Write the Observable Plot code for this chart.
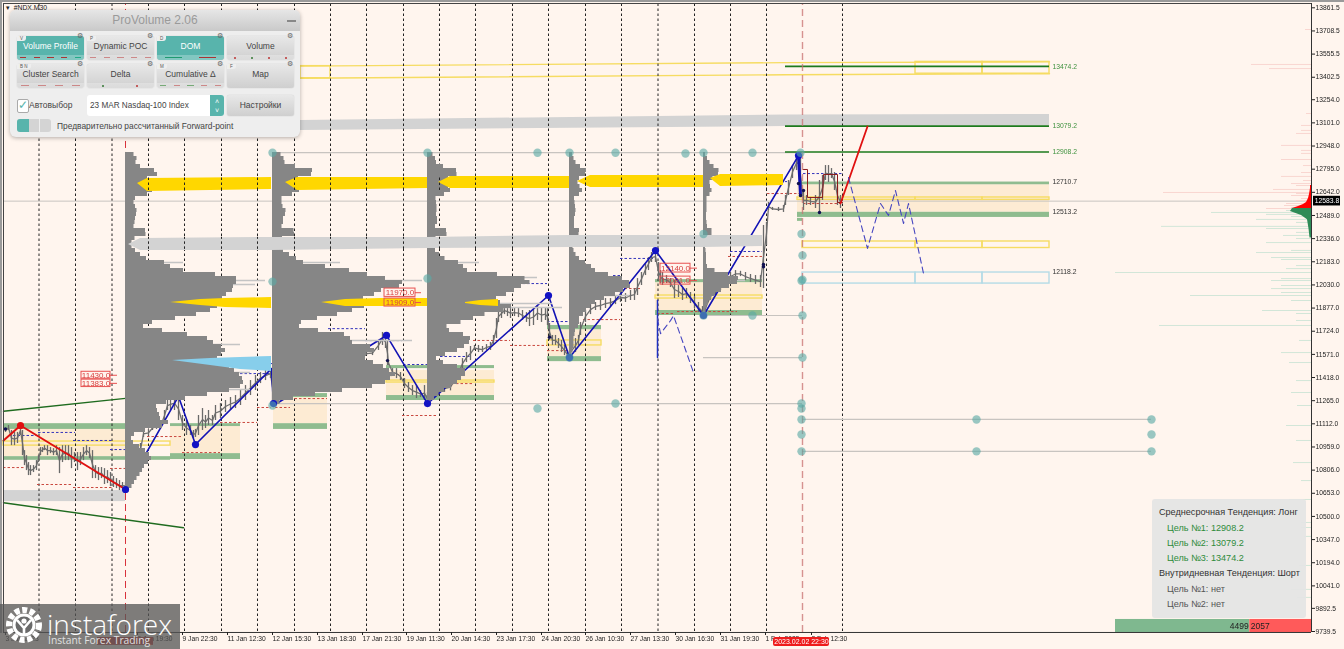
<!DOCTYPE html>
<html><head><meta charset="utf-8">
<script src="https://cdn.jsdelivr.net/npm/d3@7"></script>
<script src="https://cdn.jsdelivr.net/npm/@observablehq/plot@0.6"></script>
<style>
html,body{margin:0;padding:0;background:#FFF5EE;width:1344px;height:649px;overflow:hidden;font-family:"Liberation Sans",Arial,sans-serif}
#wrap{position:relative;width:1344px;height:649px;overflow:hidden}
#wrap svg.plot{position:absolute;left:0;top:0;background:transparent;filter:blur(.3px)}
.edgeT{position:absolute;left:0;top:0;width:1344px;height:2px;background:#9a9a9a}
.edgeT2{position:absolute;left:3px;top:3px;width:1308px;height:1px;background:#444}
.edgeL{position:absolute;left:0;top:0;width:2px;height:633px;background:#9a9a9a}
.edgeL2{position:absolute;left:3px;top:3px;width:1px;height:629px;background:#444}
#panel{position:absolute;left:10px;top:10px;width:290px;height:127px;border-radius:6px;background:#eeeeee;box-shadow:0 1px 4px rgba(0,0,0,.3);overflow:hidden}
#panel .head{height:21px;background:linear-gradient(#e6e6e6,#c9c9c9);text-align:center;color:#9a9a9a;font-size:12px;line-height:21px;font-family:"Liberation Sans",sans-serif}
#panel .min{position:absolute;right:4px;top:10px;width:9px;height:1.5px;background:#888}
.btn{position:absolute;width:67px;height:24px;border-radius:3px;background:linear-gradient(#e8e8e8,#cfcfcf);color:#444;font-size:8.5px;text-align:center;line-height:21px;box-shadow:0 0 1px rgba(0,0,0,.3)}
.btn.on{background:#58b4ac;color:#fff}
.btn .key{position:absolute;left:0;top:0;height:5px;padding:0 3px;font-size:4.5px;line-height:5px;color:#555;background:#eee;border-radius:0 0 3px 0}
.btn .gear{position:absolute;right:1px;top:-6px;font-size:7px;line-height:11px;color:#666}
.btn .strip{position:absolute;left:0;right:0;bottom:0;height:5px;display:flex;gap:1px;background:rgba(255,255,255,.25)}
.btn .strip i{flex:1;position:relative;display:block}
.btn .strip i:after{content:"";position:absolute;left:25%;right:25%;top:2px;height:1px;background:var(--c)}
.btn .strip i.dot:after{left:45%;right:auto;width:2px;height:2px;border-radius:1px;top:1.5px}
#info{position:absolute;left:1152px;top:499px;width:154px;height:119px;background:rgba(228,228,228,.93);border-radius:3px;font-size:9.1px;color:#333}
#info div{position:absolute;white-space:nowrap;line-height:12px}
#logo{position:absolute;left:0;top:604px;width:180px;height:45px;background:rgba(85,85,85,.76)}
</style></head>
<body><div id="wrap"></div>
<script>
// ---------- axis ----------
const priceTicks=[13861.5,13708.5,13555.5,13402.5,13254.0,13101.0,12948.0,12795.0,12642.0,12489.0,12336.0,12183.0,12030.0,11877.0,11724.0,11571.0,11418.0,11265.0,11112.0,10959.0,10806.0,10653.0,10500.0,10347.0,10194.0,10041.0,9892.5,9739.5];
const timeTickBars=[5,137,182,227,272,317,362,406,451,496,541,585,630,675,720,765,811];
const timeTickLabels=["3 Jan 2023","6 Jan 19:30","9 Jan 22:30","11 Jan 12:30","12 Jan 15:30","13 Jan 18:30","17 Jan 21:30","19 Jan 11:30","20 Jan 14:30","23 Jan 17:30","24 Jan 20:30","26 Jan 10:30","27 Jan 13:30","30 Jan 16:30","31 Jan 19:30","1 Feb 2023","2 Feb 12:30"];
const gridBars=[38.5,75,111.5,148,184,221,257,294,330,366,403,439,475,512,548,585,621,657.5,694,730,766,842];
const currentPrice=12583.8;
const buyVolume=4499, sellVolume=2057;

// ---------- candles [bar, low, high] ----------
const candlesA=[[5,11055,11081],[8,11068,11101],[11,10968,11068],[14,10968,11055],[17,10982,11055],[20,11035,11101],[22,10902,11068],[24,10836,10935],[26,10803,10902],[28,10770,10856],[30,10770,10836],[33,10790,10836],[36,10803,10869],[38,10856,10902],[40,10902,10955],[42,10922,10955],[44,10935,10968],[47,10902,10968],[50,10915,10955],[53,10902,10948],[56,10902,10968],[59,10783,10955],[62,10856,10968],[65,10869,10968],[68,10869,10968],[71,10816,10955],[74,10856,10922],[77,10803,10922],[80,10836,10922],[83,10869,10955],[86,10902,10968],[89,10882,10955],[92,10750,10935],[95,10750,10836],[98,10737,10823],[101,10750,10823],[104,10711,10816],[107,10717,10803],[110,10697,10790],[113,10691,10764],[116,10684,10750],[119,10671,10737],[122,10684,10724],[125,10678,10724]];
const candlesB=[[130,10737,10803],[135,10803,10869],[140,10902,10982],[143,11022,11068],[148,11030,11075],[152,11068,11101],[156,11075,11108],[160,11075,11108],[164,11134,11200],[167,11200,11266],[170,11200,11280],[174,11200,11299],[178,11134,11286],[182,11068,11167],[186,11035,11134],[190,11035,11101],[193,11015,11068],[195,11022,11075],[198,11035,11167],[202,11068,11213],[205,11081,11167],[208,11101,11200],[212,11101,11167],[215,11134,11233],[220,11147,11246],[225,11187,11266],[230,11200,11286],[235,11213,11299],[240,11233,11332],[245,11266,11365],[250,11299,11398],[255,11332,11431],[260,11378,11451],[265,11398,11464],[270,11411,11477],[272,11233,11477]];
const candlesC=[[350,11530,11563],[355,11537,11563],[360,11563,11583],[366,11563,11590],[372,11563,11597],[378,11597,11663],[382,11630,11716],[385,11610,11696],[387,11497,11663],[388,11497,11530],[392,11431,11477],[396,11411,11477],[400,11398,11451],[404,11345,11411],[408,11319,11385],[412,11299,11365],[416,11279,11365],[420,11286,11332],[424,11266,11365],[427,11233,11319]];
const candlesD=[[432,11270,11330],[438,11300,11350],[444,11320,11370],[450,11330,11380],[458,11411,11477],[462,11477,11543],[466,11517,11583],[470,11530,11623],[474,11597,11630],[478,11583,11630],[482,11583,11623],[486,11597,11636],[490,11597,11650],[493,11630,11696],[496,11676,11808],[498,11782,11861],[501,11808,11874],[504,11834,11887],[507,11821,11887],[510,11808,11880],[514,11821,11874],[518,11814,11874],[522,11795,11861],[526,11782,11847],[529,11755,11861],[533,11762,11874],[537,11795,11894],[541,11782,11880],[545,11795,11880],[547,11762,11874],[549,11663,11775],[552,11630,11696],[555,11630,11696],[558,11610,11676],[561,11583,11663],[564,11563,11630],[567,11543,11597]];
const candlesE=[[570,11543,11630],[575,11583,11676],[578,11630,11696],[580,11696,11782],[585,11782,11861],[590,11834,11900],[595,11861,11914],[600,11861,11927],[605,11874,11940],[610,11887,11940],[615,11900,11953],[620,11914,11980],[625,11914,11973],[630,11927,11993],[634,11927,12006],[637,11960,12072],[641,12026,12112],[645,12092,12171],[648,12125,12211],[651,12178,12244],[655,12178,12257],[658,12059,12178],[660,12039,12125],[662,12026,12112],[666,12039,12092],[670,12013,12072],[674,11940,12059],[678,11947,12026],[682,11927,12006],[686,11940,12006],[690,11907,11980],[694,11874,11953],[698,11847,11914],[702,11821,11887]];
const candlesF=[[705,11828,11927],[710,11927,11980],[715,11960,12013],[720,11993,12046],[725,12026,12072],[730,12059,12112],[735,12080,12125],[740,12085,12120],[745,12059,12112],[750,12046,12099],[755,12033,12092],[760,12013,12092],[763,12006,12423],[766,12291,12443],[768,12522,12575],[772,12522,12542],[778,12515,12542],[783,12509,12555],[785,12555,12621],[788,12621,12720],[792,12733,12819],[796,12786,12885],[798,12786,12885],[800,12621,12885],[803,12522,12654],[806,12555,12621],[810,12555,12608],[815,12535,12621],[819,12509,12720],[822,12588,12753],[825,12720,12819],[828,12707,12819],[831,12733,12799],[834,12654,12773],[837,12555,12687],[840,12535,12621]];
const candleRuns=[candlesA,candlesB,candlesC,candlesD,candlesE,candlesF];
const candles=candleRuns.flat();

// ---------- volume profiles: width per 26.44-point level from 12905 down ----------
const profileStarts=[125,272,427,569,703];
const profile1=[3,14,9,12,18,40,24,20,22,24,30,14,6,11,9,14,8,12,7,10,30,11,8,5,8,12,18,24,54,36,80,100,122,100,116,98,104,90,96,88,82,60,40,14,22,52,72,92,84,108,92,100,84,108,100,118,110,124,112,118,90,74,46,36,26,38,30,40,46,28,12,6,6,10,18,22,26,26,20,18,16,13,10,8,5,2];
const profile2=[3,14,9,16,30,50,28,24,24,26,28,12,7,12,9,18,8,14,8,11,32,12,8,5,8,14,20,28,34,72,82,108,118,142,112,106,98,84,100,84,76,54,36,22,32,60,84,72,88,108,96,92,94,108,114,120,126,110,116,84,56,30,12,3];
const profile3=[2,9,7,11,21,37,22,20,20,22,24,10,7,11,8,11,7,13,7,9,29,10,7,5,7,9,15,20,42,30,50,90,105,100,88,86,72,66,80,88,65,50,42,25,14,30,42,44,40,34,26,10,8,24,36,40,36,32,28,20,14,9,5,2];
const profile4=[2,4,5,8,14,20,12,8,9,12,14,6,4,7,5,8,4,6,4,6,14,5,4,3,4,5,8,12,20,24,28,50,56,64,58,50,42,28,24,18,16,12,8,12,6,6,5,4,5,4,3,2];
const profile5=[1,3,5,8,13,18,12,7,6,8,9,4,3,4,3,4,2,4,3,5,12,5,3,2,2,3,3,3,3,5,18,32,38,30,22,14,10,6,4,3,2,1];
const profileTopPrice=12905, profileLevelStep=26.44;
const profileRows=[profile1,profile2,profile3,profile4,profile5].flatMap((w,k)=>w.map((v,i)=>({k,price:profileTopPrice-i*profileLevelStep,x1:profileStarts[k],x2:profileStarts[k]+v})));
// thin faded tails [profile start, price, width]
const profileTails=[[125,12059,140],[125,12033,130],[125,11636,115],[125,11451,125],[125,11339,125],[125,12178,58],[272,12059,150],[272,12178,68],[272,11663,140],[272,11431,120],[427,12079,110],[427,12178,52],[427,11881,135],[427,11907,125],[569,11960,60],[703,12059,42]];

// ---------- bands [band, bar, top price, bottom price] ----------
const goldTop=[[1,137,12700,12700],[1,147,12733,12647],[1,271,12740,12661],[2,285,12707,12707],[2,297,12740,12654],[2,427,12740,12667],[3,438,12707,12707],[3,450,12747,12667],[3,569,12747,12667],[4,577,12714,12714],[4,590,12753,12674],[4,703,12753,12674],[5,710,12733,12733],[5,720,12760,12680],[5,783,12760,12687]];
const goldLow=[[1,170,11914,11914],[1,200,11934,11894],[1,225,11940,11881],[1,271,11947,11874],[2,321,11914,11914],[2,345,11934,11887],[2,380,11940,11887],[2,427,11940,11887],[3,465,11914,11907],[3,480,11927,11894],[3,498,11934,11887]];
const blueBand=[[1,172,11530,11530],[1,210,11544,11497],[1,240,11550,11471],[1,271,11557,11458]];
const grayMid=[[1,128,12297,12297],[1,140,12337,12258],[1,271,12344,12258],[1,427,12344,12271],[1,569,12357,12277],[1,703,12357,12277],[1,762,12357,12284]];
const grayTop=[[1,300,13117,13051],[1,785,13153,13077],[1,1049,13156,13080]];
const yellowTopLines=[[1,300,13476,13396],[1,785,13499,13419],[1,1049,13504,13426]];

// ---------- zones [x1, x2, top price, bottom price] ----------
const paleZones=[[3,125,11075,10895],[170,240,11094,10915],[273,327,11286,11113],[386,494,11464,11299],[547,601,11734,11556],[655,762,12045,11861],[797,1049,12692,12510]];
const greenZones=[[3,125,11113,11075],[3,170,10895,10871],[170,240,10915,10876],[170,240,11113,11094],[273,327,11312,11286],[273,327,11113,11075],[386,494,11299,11266],[386,494,11497,11477],[547,601,11762,11734],[547,601,11556,11523],[655,762,12065,12045],[655,762,11861,11828],[802,1049,12710,12692],[797,1049,12510,12476],[797,802,12470,12450]];
const grayLeft=[[3,125,10671,10598]];
const yellowBoxes=[[3,170,10995,10968],[386,494,11398,11385],[547,601,11663,11630],[655,762,11960,11940],[797,915,12608,12592],[915,982,12608,12592],[982,1049,12608,12592],[802,915,12317,12274],[915,982,12317,12274],[982,1049,12317,12274],[300,330,13476,13396],[915,982,13504,13426],[982,1049,13504,13426]];
const blueBoxes=[[802,915,12112,12039],[915,982,12112,12039],[982,1049,12112,12039]];

// ---------- levels ----------
const targetLevels=[13474.2,13079.2,12908.2];
const levelLabels=[[13474.2,"13474.2","g"],[13079.2,"13079.2","g"],[12908.2,"12908.2","g"],[12710.7,"12710.7","k"],[12513.2,"12513.2","k"],[12118.2,"12118.2","k"]];
const thinLines=[[272,802,12904],[272,802,11246],[802,1151,11141],[802,1151,10930],[703,802,11550],[703,802,11828]];
const channels=[[[3,11195],[125,11280]],[[3,10590],[183,10425]]];

// ---------- zigzags [bar, price] ----------
const blueZig=[[125,10678],[178,11293],[195,10975],[271,11477],[273,11233],[386,11696],[427,11246],[548,11960],[569,11550],[655,12257],[703,11828],[798,12885],[800,12621]];
const redZig=[[3,11002],[20,11101],[125,10678]];
const redForward=[[840,12568],[867,13077]];
const forecastA=[[848,12740],[867,12271],[880,12568],[888,12489],[895,12654],[903,12436],[908,12568],[923,12106]];
const forecastB=[[657,11807],[660,11708],[670,11794],[673,11827],[693,11451]];
const blueStem=[[657,11927],[657,11550]];
const stepLine=[[803,12793],[807,12793],[807,12608],[822,12608],[823,12760],[837,12760],[837,12575],[842,12575]];

// ---------- dashed daily levels [x1, x2, price] ----------
const blueDashes=[[13,37,11035],[38,75,11055],[73,112,11002],[110,125,10942],[222,270,11444],[257,272,11510],[328,365,11741],[365,402,11662],[403,427,11504],[440,470,11557],[500,547,12039],[547,570,11788],[620,653,12205],[613,620,12092],[730,762,12251],[767,787,12713],[803,842,12766]];
const redDashes=[[3,25,10823],[37,73,10711],[73,112,10691],[110,125,10817],[147,182,11028],[182,220,10922],[220,257,11121],[257,271,11220],[290,327,11279],[275,290,11220],[365,400,11438],[353,365,11352],[402,437,11167],[473,510,11663],[510,547,11630],[547,567,11596],[583,620,11801],[620,640,12006],[657,673,11841],[677,737,11854],[438,473,11378],[728,763,12218],[767,800,12634],[803,840,12568]];

// ---------- dots ----------
const tealDots=[[272,12904],[427,12904],[537,12904],[569,12904],[615,12904],[685,12899],[703,12904],[752,12904],[800,12904],[801,12367],[703,12367],[802,12224],[802,12065],[801,12058],[272,12052],[427,12072],[703,11828],[752,11828],[802,11828],[569,11550],[802,11550],[272,11233],[537,11213],[615,11246],[801,11246],[801,11213],[801,11141],[801,11041],[801,10930],[976,11141],[1151,11141],[1151,11041],[976,10930],[1151,10930]];
const blueDots=[[125,10678],[195,10975],[273,11246],[386,11696],[427,11246],[548,11960],[569,11550],[655,12257],[703,11828],[798,12885]];
const smallDots=[[5,11078],[798,12700],[800,12621],[803,12654],[819,12509],[763,12150],[387,11530],[549,11685],[763,12165]];

// ---------- red price tags ----------
const priceTags=[[81,110,11456,11410,"11430.0",117],[81,110,11404,11355,"11383.0",117],[384,415,12006,11951,"11970.0",421],[384,415,11940,11887,"11909.0",421],[660,690,12170,12112,"12140.0",697],[660,690,12085,12032,"12081.0",697]];

// ---------- depth of market, right edge [price, width] ----------
const askLines=[[13718,6],[13487,60],[13460,42],[13163,5],[13084,10],[13051,10],[13031,15],[12952,30],[12919,10],[12899,10],[12859,30],[12819,8],[12773,10],[12747,30],[12720,8],[12700,20],[12687,15],[12661,38],[12641,148],[12634,15],[12621,20],[12601,10],[12588,15],[12568,25],[12555,27],[12542,20],[12535,45]];
const bidLines=[[12522,25],[12509,100],[12496,45],[12482,20],[12463,55],[12443,15],[12417,150],[12403,45],[12377,15],[12357,28],[12337,15],[12310,45],[12258,20],[12244,55],[12211,40],[12198,30],[12158,15],[12138,25],[12112,196],[12072,30],[12059,40],[12026,30],[12006,40],[11980,30],[11960,121],[11927,20],[11861,49],[11841,15],[11795,15],[11762,152],[11663,12],[11583,30],[11517,22],[11398,15],[11319,20],[11233,14],[11101,25],[11002,15],[10856,18],[10737,10],[10612,22],[10460,10],[10427,10],[10368,7],[10176,12],[10018,20],[9965,14]];
const askSolid=[[12687,1],[12667,1],[12647,1.5],[12628,2],[12614,2.5],[12601,3],[12588,4],[12575,5],[12561,8],[12548,13],[12535,19]];
const bidSolid=[[12535,19],[12515,21],[12489,10],[12460,4],[12400,2.5],[12340,1.5]];

const row=(a)=>({x1:a[0],x2:a[1],y1:a[2],y2:a[3]});
const seg=(a)=>({x1:a[0],x2:a[1],y:a[2]});
const bandRows=(a)=>a.map(r=>({z:r[0],x:r[1],y1:r[2],y2:r[3]}));
const bandMark=(a,fill)=>Plot.areaY(bandRows(a),{x:"x",y1:"y1",y2:"y2",z:"z",fill});
const xy={x:d=>d[0],y:d=>d[1]};
const labelOf=d=>timeTickLabels[timeTickBars.indexOf(d)];
const buyEnd=1115+buyVolume*0.02985;

const chart=Plot.plot({
  width:1344,height:649,marginLeft:3,marginRight:33,marginTop:3,marginBottom:17,
  x:{domain:[3,1311],range:[3,1311],axis:null},
  y:{domain:[9739.5,13861.5],range:[631,7.3],axis:null},
  style:{background:"transparent",fontFamily:"'Liberation Sans',Arial,sans-serif",fontSize:"6.7px",color:"#222",overflow:"visible"},
  marks:[
    // zones
    Plot.rect(grayLeft.map(row),{x1:"x1",x2:"x2",y1:"y1",y2:"y2",fill:"#d3d3d3"}),
    bandMark(grayTop,"#d3d3d3"),
    Plot.rect(paleZones.map(row),{x1:"x1",x2:"x2",y1:"y1",y2:"y2",fill:"#fdebd3"}),
    Plot.rect(greenZones.map(row),{x1:"x1",x2:"x2",y1:"y1",y2:"y2",fill:"#8fbc8f"}),
    Plot.rect(yellowBoxes.map(row),{x1:"x1",x2:"x2",y1:"y1",y2:"y2",stroke:"#f6dc62",strokeWidth:1.4,fill:"none"}),
    Plot.rect(blueBoxes.map(row),{x1:"x1",x2:"x2",y1:"y1",y2:"y2",stroke:"#b5dbe6",strokeWidth:1.4,fill:"none"}),
    Plot.line(yellowTopLines.map(r=>[r[1],r[2]]),{...xy,stroke:"#f6dc62",strokeWidth:1.4}),
    Plot.line(yellowTopLines.map(r=>[r[1],r[3]]),{...xy,stroke:"#f6dc62",strokeWidth:1.4}),
    // grid and thin levels
    Plot.ruleX(gridBars,{y1:9739.5,y2:13890,stroke:"#222",strokeWidth:1,strokeDasharray:"2.5,2.5"}),
    Plot.ruleX([125],{y1:9733,y2:13890,stroke:"#d8323c",strokeWidth:1,strokeDasharray:"7,4"}),
    Plot.ruleY([currentPrice],{x1:3,x2:1311,stroke:"#c8c4c0",strokeWidth:1}),
    Plot.ruleY(thinLines.map(seg),{x1:"x1",x2:"x2",y:"y",stroke:"#c8c4c0",strokeWidth:1.2}),
    // channel
    ...channels.map(c=>Plot.line(c,{...xy,stroke:"#1f6b1f",strokeWidth:1.4})),
    // dashed daily levels
    Plot.ruleY(blueDashes.map(seg),{x1:"x1",x2:"x2",y:"y",stroke:"#3333bb",strokeWidth:1,strokeDasharray:"2.5,2"}),
    Plot.ruleY(redDashes.map(seg),{x1:"x1",x2:"x2",y:"y",stroke:"#c9483f",strokeWidth:1,strokeDasharray:"2.5,2"}),
    // candles
    ...candleRuns.map(run=>Plot.line(run,{x:d=>d[0],y:d=>(d[1]+d[2])/2,stroke:"#707070",strokeWidth:1.3})),
    Plot.ruleX(candles,{x:d=>d[0],y1:d=>d[1],y2:d=>d[2],stroke:"#6a6a6a",strokeWidth:1.3}),
    Plot.line(blueZig,{...xy,stroke:"#1212b4",strokeWidth:1.6}),
    Plot.line(blueStem,{...xy,stroke:"#2030c0",strokeWidth:1.5}),
    // volume profiles
    Plot.ruleY(profileTails,{y:d=>d[1],x1:d=>d[0],x2:d=>d[0]+d[2],stroke:"#c4c4c4",strokeWidth:1.4}),
    Plot.areaX(profileRows,{y:"price",x1:"x1",x2:"x2",z:"k",fill:"#868686",curve:"step"}),
    // bands over the profiles
    bandMark(grayMid,"#d3d3d3"),
    bandMark(goldTop,"#ffd700"),
    bandMark(goldLow,"#ffd700"),
    bandMark(blueBand,"#87ceeb"),
    Plot.ruleX(gridBars.filter(x=>x>147&&x<783),{y1:12654,y2:12750,stroke:"#222",strokeWidth:1,strokeDasharray:"2.5,2.5"}),
    Plot.ruleX(gridBars.filter(x=>x>140&&x<762),{y1:12265,y2:12345,stroke:"#222",strokeWidth:1,strokeDasharray:"2.5,2.5"}),
    // targets
    Plot.ruleY(targetLevels,{x1:785,x2:1049,stroke:"#1d7a1d",strokeWidth:1.6}),
    Plot.ruleX([802],{y1:9733,y2:13890,stroke:"#c87070",strokeOpacity:.75,strokeWidth:1.4,strokeDasharray:"7,4"}),
    // zigzags on top
    Plot.line(stepLine,{...xy,stroke:"#8b1a1a",strokeWidth:1}),
    Plot.line(redZig,{...xy,stroke:"#e01010",strokeWidth:2}),
    Plot.line(redForward,{...xy,stroke:"#e01010",strokeWidth:1.8}),
    Plot.line(forecastA,{...xy,stroke:"#4646c0",strokeWidth:1.1,strokeDasharray:"6,4"}),
    Plot.line(forecastB,{...xy,stroke:"#4646c0",strokeWidth:1.1,strokeDasharray:"6,4"}),
    Plot.line(blueZig.slice(-2),{...xy,stroke:"#1010b0",strokeWidth:3}),
    Plot.dot(blueDots,{...xy,r:3.6,fill:"#1212c4"}),
    Plot.dot(smallDots,{...xy,r:1.7,fill:"#101050"}),
    Plot.dot([[20,11101]],{...xy,r:3.6,fill:"#e01010"}),
    Plot.dot(tealDots,{...xy,r:4.2,fill:"#5aa9a4",fillOpacity:.62}),
    // tags
    Plot.rect(priceTags,{x1:d=>d[0],x2:d=>d[1],y1:d=>d[2],y2:d=>d[3],stroke:"#e85050",fill:"none",strokeWidth:1}),
    Plot.ruleY(priceTags,{x1:d=>d[1],x2:d=>d[5],y:d=>(d[2]+d[3])/2,stroke:"#e85050",strokeWidth:1}),
    Plot.text(priceTags,{x:d=>(d[0]+d[1])/2,y:d=>(d[2]+d[3])/2,text:d=>d[4],fill:"#d84040",fontSize:8}),
    // level labels
    Plot.text(levelLabels,{x:1052,y:d=>d[0],text:d=>d[1],textAnchor:"start",fill:d=>d[2]==="g"?"#3f923f":"#333",fontSize:6.8}),
    // depth of market
    Plot.ruleY(askLines,{y:d=>d[0],x1:d=>1311-d[1],x2:1311,stroke:"#f9d6d0",strokeWidth:1}),
    Plot.ruleY(bidLines,{y:d=>d[0],x1:d=>1311-d[1],x2:1311,stroke:"#d2e6d8",strokeWidth:1}),
    Plot.areaX(askSolid,{y:d=>d[0],x1:d=>1311-d[1],x2:1311,fill:"#ff0000"}),
    Plot.areaX(bidSolid,{y:d=>d[0],x1:d=>1311-d[1],x2:1311,fill:"#2e8b57"}),
    // volume split bar
    Plot.rect([[1115,buyEnd,"#7fb88f"],[buyEnd,1311,"#ff5a5a"]],{x1:d=>d[0],x2:d=>d[1],y1:9819,y2:9733,fill:d=>d[2]}),
    Plot.text([buyVolume],{x:buyEnd-1,y:9776,text:d=>String(d),textAnchor:"end",fill:"#222",fontSize:8.5}),
    Plot.text([sellVolume],{x:buyEnd+1,y:9776,text:d=>String(d),textAnchor:"start",fill:"#222",fontSize:8.5}),
    // axes
    Plot.axisY(priceTicks,{anchor:"right",tickSize:3,tickPadding:1,label:null,tickFormat:d=>d.toFixed(1),color:"#222"}),
    Plot.ruleX([1311],{y1:9733,y2:13890,stroke:"#333"}),
    Plot.ruleY([9733],{x1:3,x2:1311,stroke:"#333"}),
    Plot.axisX(timeTickBars,{anchor:"bottom",tickSize:3,tickPadding:1,label:null,tickFormat:labelOf,textAnchor:"start",color:"#222"}),
    // crosshair tags
    Plot.rect([1],{x1:97,x2:153,y1:9700,y2:9648,fill:"#c93a3a"}),
    Plot.rect([1],{x1:773,x2:829,y1:9700,y2:9640,fill:"#ee1c1c",rx:2}),
    Plot.text(["2023.02.02 22:30"],{x:801,y:9670,text:d=>d,fill:"#ffffff",fontSize:7}),
    Plot.rect([currentPrice],{x1:1313,x2:1340,y1:d=>d+32,y2:d=>d-32,fill:"#000"}),
    Plot.text([currentPrice],{x:1326.5,y:d=>d,text:d=>d.toFixed(1),fill:"#fff",fontSize:6.8})
  ]
});
chart.classList.add("plot");
const wrap=document.getElementById("wrap");
wrap.appendChild(chart);

// ---------- window edges ----------
["edgeT","edgeT2","edgeL","edgeL2"].forEach(c=>{const d=document.createElement("div");d.className=c;wrap.appendChild(d);});
const sym=document.createElement("div");
sym.textContent="\u25BE  #NDX,M30";
sym.style.cssText="position:absolute;left:6px;top:4px;font-size:6.8px;color:#222;white-space:pre";
wrap.appendChild(sym);

// ---------- ProVolume panel ----------
const buttonLabels=["Volume Profile","Dynamic POC","DOM","Volume","Cluster Search","Delta","Cumulative \u0394","Map"];
const buttonKeys=["V","P","D","","B N","","M","F"];
const buttonOn=[1,0,1,0,0,0,0,0];
const buttonStrips=[
 ["#a33","#a33","#a33","#a33","#2a8"],["#c88","#c88","#c88","#c88","#c88"],["#1f9a70","#a33"],["#b33","#373","#b33","#b33"],
 ["#c88","#c88","#c88","#c88"],["#373","#b33"],["#7a7","#c88","#7a7","#c88","#c88"],[]];
const panel=document.createElement("div");panel.id="panel";
let html='<div class="head">ProVolume 2.06</div><div class="min"></div>';
buttonLabels.forEach((t,i)=>{
  const l=7+(i%4)*70, tp=26+Math.floor(i/4)*28;
  const dots=i===3||i===5;
  html+=`<div class="btn${buttonOn[i]?" on":""}" style="left:${l}px;top:${tp}px">${buttonKeys[i]?`<span class="key">${buttonKeys[i]}</span>`:""}<span class="gear">\u2699</span>${t}`+
    (buttonStrips[i].length?`<div class="strip">${buttonStrips[i].map(c=>`<i class="${dots?"dot":""}" style="--c:${c}"></i>`).join("")}</div>`:"")+`</div>`;
});
html+=`<div style="position:absolute;left:7px;top:89px;width:10px;height:12px;background:#fff;border:1px solid #aaa;border-radius:2px;color:#58b4ac;font-size:12px;line-height:11px;text-align:center">\u2713</div>
<div style="position:absolute;left:19px;top:89px;font-size:8.5px;line-height:13px;color:#444">Автовыбор</div>
<div style="position:absolute;left:77px;top:85px;width:137px;height:21px;background:#fff;border-radius:3px;font-size:8.2px;line-height:21px;color:#444;text-indent:3px;overflow:hidden">23 MAR Nasdaq-100 Index<div style="position:absolute;right:0;top:0;width:14px;height:21px;background:#58b4ac;color:#fff;font-size:7px;line-height:9px;text-indent:0;text-align:center;padding-top:2px;box-sizing:border-box">\u02C4<br>\u02C5</div></div>
<div class="btn" style="left:217px;top:85px;height:21px;font-size:8.5px;line-height:21px">Настройки</div>
<div style="position:absolute;left:7px;top:109px;width:34px;height:13px;border-radius:3px;background:#d4d4d4;overflow:hidden"><div style="width:12px;height:13px;background:#58b4ac"></div><div style="position:absolute;left:22px;top:0;width:1px;height:13px;background:#eee"></div></div>
<div style="position:absolute;left:47px;top:110px;font-size:8.4px;line-height:12px;color:#444;white-space:nowrap">Предварительно рассчитанный Forward-point</div>`;
panel.innerHTML=html;wrap.appendChild(panel);

// ---------- trend summary ----------
const infoRows=[["Среднесрочная Тенденция: Лонг",7,7,"#333"],["Цель №1: 12908.2",15,22.5,"#2e8b3a"],["Цель №2: 13079.2",15,38,"#2e8b3a"],["Цель №3: 13474.2",15,53,"#2e8b3a"],["Внутридневная Тенденция: Шорт",7,68,"#333"],["Цель №1: нет",15,84,"#555"],["Цель №2: нет",15,99,"#555"]];
const info=document.createElement("div");info.id="info";
info.innerHTML=infoRows.map(r=>`<div style="left:${r[1]}px;top:${r[2]}px;color:${r[3]}">${r[0]}</div>`).join("");
wrap.appendChild(info);

// ---------- watermark ----------
const logo=document.createElement("div");logo.id="logo";
logo.innerHTML=`<svg width="44" height="45" style="position:absolute;left:3px;top:0"><circle cx="21" cy="21" r="15" fill="none" stroke="#fff" stroke-width="6" stroke-dasharray="5 2.6"/><circle cx="21" cy="21" r="11.5" fill="#fff"/><circle cx="21" cy="21" r="8.5" fill="#6a6a6a"/><circle cx="21" cy="17" r="2.6" fill="#fff"/><path d="M14 16 L21 24 L28 16 M21 24 L21 32" stroke="#fff" stroke-width="2.6" fill="none"/></svg>
<div style="position:absolute;left:47px;top:-1px;font-size:28px;line-height:42px;color:#fff;font-family:'Open Sans','Liberation Sans',sans-serif;font-weight:300">instaforex</div>
<div style="position:absolute;left:48px;top:29px;font-size:10.3px;line-height:14px;color:#e0e0e0;font-family:'Open Sans','Liberation Sans',sans-serif">Instant Forex Trading</div>`;
wrap.appendChild(logo);
</script></body></html>
